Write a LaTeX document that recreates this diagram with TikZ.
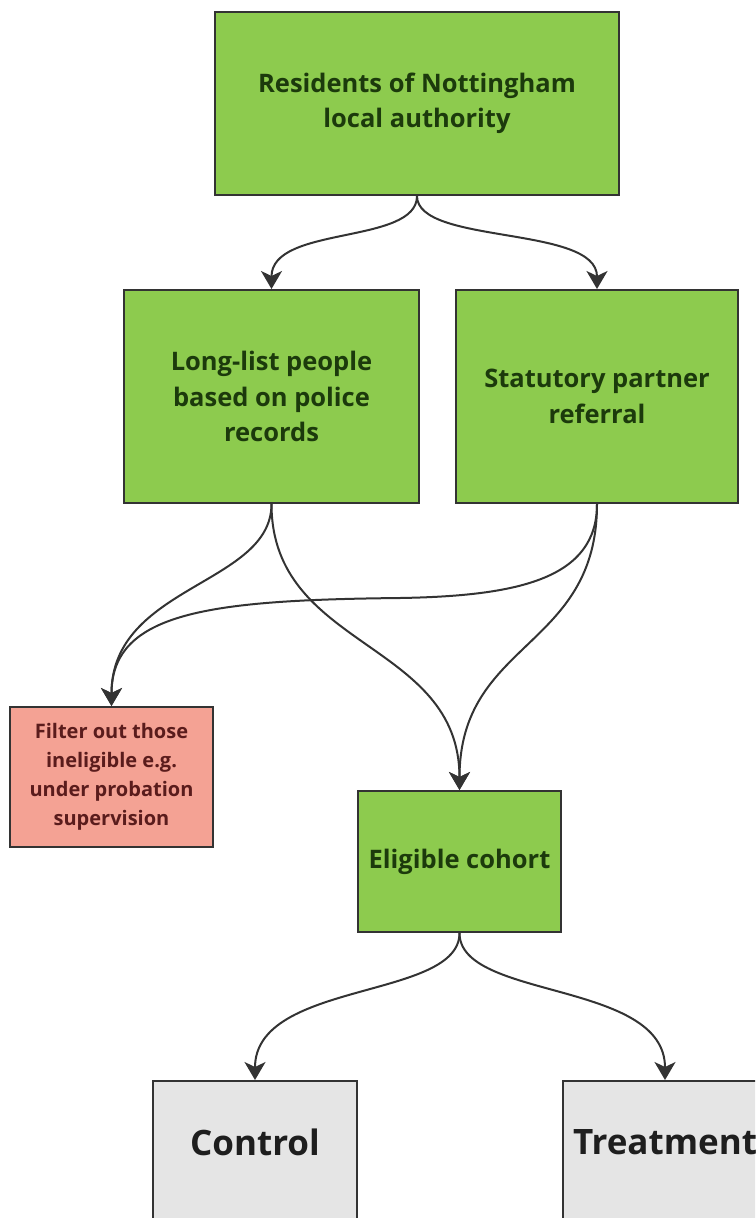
\documentclass[tikz,border=0pt]{standalone}
\usepackage{fontspec}
\setmainfont{Open Sans}
\usetikzlibrary{arrows.meta,positioning}

\definecolor{boxgreen}{HTML}{8DCB4E}
\definecolor{greentext}{HTML}{1C3A0C}
\definecolor{boxpink}{HTML}{F4A294}
\definecolor{pinktext}{HTML}{5A1C1C}
\definecolor{boxgrey}{HTML}{E5E5E5}
\definecolor{greytext}{HTML}{1E1E1E}
\definecolor{linedark}{HTML}{333333}

\tikzset{
  x=1pt, y=-1pt,
  base/.style={draw=linedark, line width=2pt, rectangle, inner sep=0pt, align=center, font=\bfseries},
  greenbox/.style={base, fill=boxgreen, text=greentext,
    font=\fontsize{25.5}{35.5}\selectfont\bfseries},
  pinkbox/.style={base, fill=boxpink, text=pinktext,
    font=\fontsize{20}{29}\selectfont\bfseries},
  greybox/.style={base, fill=boxgrey},
  greylabel/.style={text=greytext, font=\fontsize{35}{40}\selectfont\bfseries, inner sep=0pt},
  flow/.style={draw=linedark, line width=2pt,
    -{Stealth[length=18pt, width=21pt, inset=5pt, fill=linedark]}},
}

\begin{document}
\begin{tikzpicture}
  \useasboundingbox (0,0) rectangle (755,1218);
  \clip (0,0) rectangle (755,1218);

  % boxes
  \node[greenbox, minimum width=404pt, minimum height=183pt] (res) at (417,103.5)
    {Residents of Nottingham\\local authority};
  \node[greenbox, minimum width=295pt, minimum height=213pt] (police) at (271.5,396.5)
    {Long-list people\\based on police\\records};
  \node[greenbox, minimum width=282pt, minimum height=213pt] (partner) at (597,396.5)
    {Statutory partner\\referral};
  \node[pinkbox, minimum width=203pt, minimum height=140pt] (filter) at (111.5,777)
    {Filter out those\\ineligible e.g.\\under probation\\supervision};
  \node[greenbox, minimum width=203pt, minimum height=141pt] (cohort) at (459.5,861.5)
    {Eligible cohort};
  \node[greybox, anchor=north, minimum width=204pt, minimum height=170pt] (control) at (255,1080) {};
  \node[greybox, anchor=north, minimum width=204pt, minimum height=170pt] (treat) at (665,1080) {};
  \node[greylabel] (controltext) at (255,1142) {Control};
  \node[greylabel] (treattext) at (665,1142) {Treatment};

  % connectors
  \draw[flow] (res.south) .. controls (417,245) and (271.5,225) .. (police.north);
  \draw[flow] (res.south) .. controls (417,245) and (597,225) .. (partner.north);

  \draw[flow] (police.south) .. controls (271.5,585) and (111.5,585) .. (filter.north);
  \coordinate (sweep) at (400,598);
  \draw[flow] (partner.south) .. controls (597,578) and (520,596) .. (sweep)
    .. controls (210,600) and (111.5,612) .. (filter.north);

  \draw[flow] (police.south) .. controls (271.5,650) and (459.5,640) .. (cohort.north);
  \draw[flow] (partner.south) .. controls (597,650) and (459.5,640) .. (cohort.north);

  \draw[flow] (cohort.south) .. controls (459.5,1000) and (255,980) .. (control.north);
  \draw[flow] (cohort.south) .. controls (459.5,1000) and (665,980) .. (treat.north);
\end{tikzpicture}
\end{document}
